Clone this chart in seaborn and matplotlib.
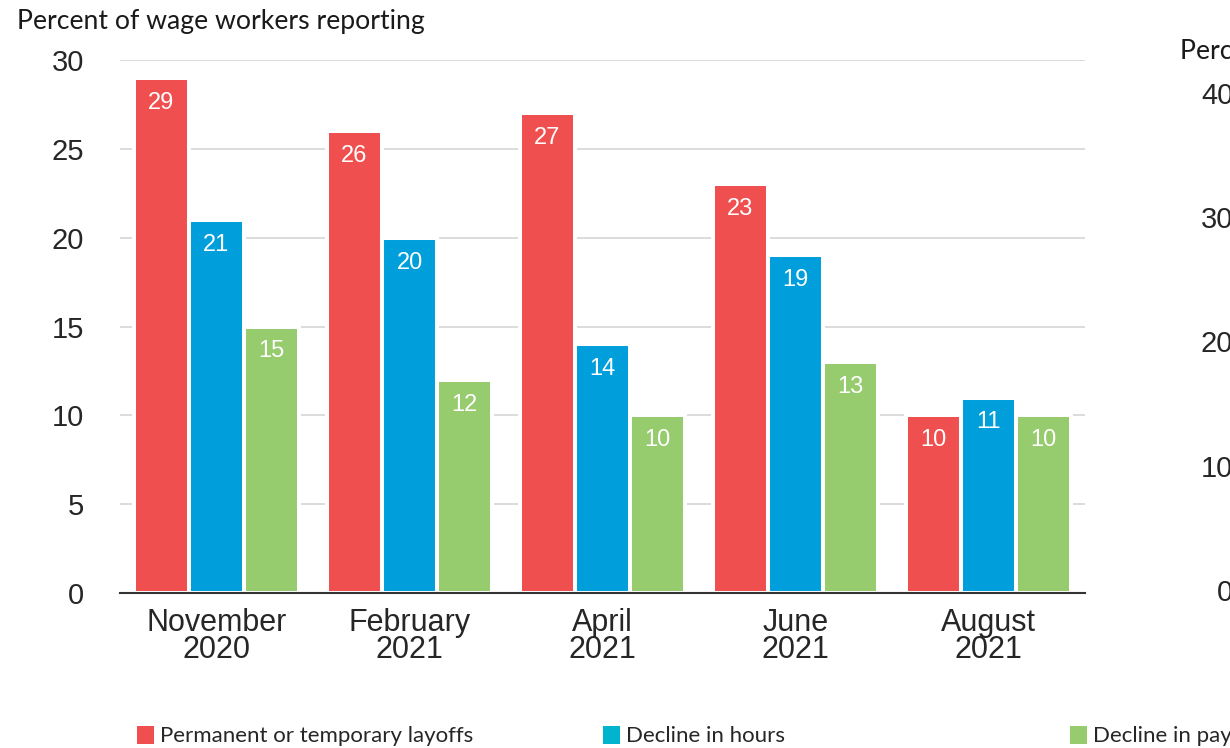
import matplotlib
matplotlib.use("Agg")
import matplotlib.pyplot as plt
from matplotlib.patches import Patch
import pandas as pd
import seaborn as sns

# dados
periodos = ["November\n2020", "February\n2021", "April\n2021", "June\n2021", "August\n2021"]
series = ["Permanent or temporary layoffs", "Decline in hours", "Decline in pay"]
demissoes = [29, 26, 27, 23, 10]
horas = [21, 20, 14, 19, 11]
salario = [15, 12, 10, 13, 10]

cores = ["#EF4F4F", "#009FDB", "#96CB6E"]
cores_legenda = ["#EF4F4F", "#00B4CD", "#96CB6E"]

df = pd.DataFrame({
    "periodo": periodos * 3,
    "serie": [series[0]] * 5 + [series[1]] * 5 + [series[2]] * 5,
    "valor": demissoes + horas + salario,
})

sns.set_style("white")
plt.rcParams["font.family"] = ["Liberation Sans", "DejaVu Sans"]

fig = plt.figure(figsize=(12.3, 7.48), dpi=100)
ax = fig.add_axes([120 / 1230, 1 - 593 / 748, (1085 - 120) / 1230, (593 - 60) / 748])

sns.barplot(data=df, x="periodo", y="valor", hue="serie", palette=cores,
            width=0.855, edgecolor="white", linewidth=2.9, saturation=1,
            legend=False, ax=ax)

# rótulos dentro das barras
for cont in ax.containers:
    for p in cont:
        h = p.get_height()
        ax.text(p.get_x() + p.get_width() / 2, h - 1.4, f"{h:.0f}",
                ha="center", va="center", color="white", fontsize=17)

ax.set_ylim(0, 30)
ax.set_xlim(-0.5, 4.5)
ax.set_yticks([0, 5, 10, 15, 20, 25, 30])
ax.yaxis.grid(True, color="#D9D9D9", linewidth=1.3)
ax.set_axisbelow(True)
for s in ["left", "top", "right"]:
    ax.spines[s].set_visible(False)
ax.spines["bottom"].set_color("#333333")
ax.spines["bottom"].set_linewidth(1.5)
ax.tick_params(axis="y", length=18, width=1.1, color="#333333", pad=8, labelsize=21)
ax.tick_params(axis="x", length=0, pad=11, labelsize=22)
for t in ax.get_xticklabels():
    t.set_linespacing(0.85)
ax.set_xlabel("")
ax.set_ylabel("")

fig.text(17 / 1230, 1 - 22 / 748, "Percent of wage workers reporting",
         fontsize=19.2, family="Lato", ha="left", va="center", color="#1a1a1a")

# gráfico vizinho, cortado na borda direita
ax2 = fig.add_axes([1236 / 1230, 1 - 590 / 748, 0.2, (590 - 93) / 748])
ax2.set_ylim(0, 40)
ax2.set_yticks([0, 10, 20, 30, 40])
ax2.set_xticks([])
ax2.tick_params(axis="y", length=0, pad=2, labelsize=21)
for s in ax2.spines.values():
    s.set_visible(False)
fig.text(1180 / 1230, 1 - 52 / 748, "Percent of wage workers reporting",
         fontsize=19.2, family="Lato", ha="left", va="center", color="#1a1a1a")

# legenda em três blocos
for i, xpos in enumerate([137, 603, 1070]):
    fig.legend(handles=[Patch(facecolor=cores_legenda[i], edgecolor="none", label=series[i])],
               loc="center left", bbox_to_anchor=(xpos / 1230, 1 - 736 / 748),
               frameon=False, handlelength=0.75, handleheight=0.9,
               handletextpad=0.3, borderpad=0, borderaxespad=0,
               prop={"family": "Lato", "size": 16})

fig.savefig("out.png", dpi=100)
